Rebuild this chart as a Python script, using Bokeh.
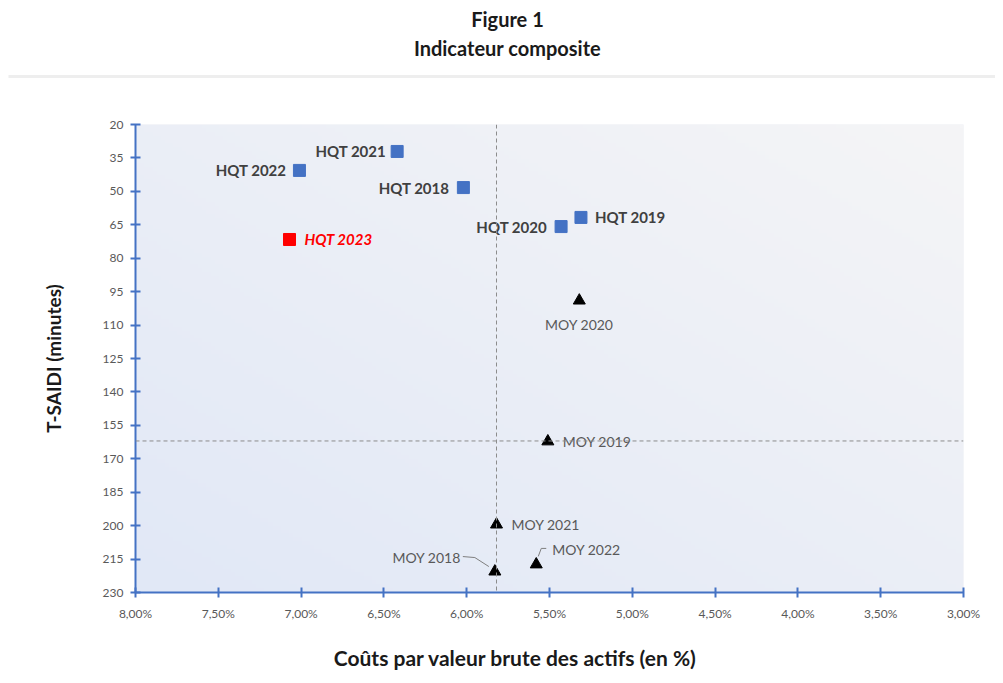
import numpy as np
from bokeh.plotting import figure
from bokeh.models import Range1d, FixedTicker, Span, Label, ColumnDataSource
from bokeh.layouts import column
from bokeh.core.properties import value
from bokeh.embed import file_html
from bokeh.resources import INLINE

# ---------------- data ----------------
hqt_names = ["HQT 2018", "HQT 2019", "HQT 2020", "HQT 2021", "HQT 2022"]
hqt_cost = [6.02, 5.31, 5.43, 6.42, 7.01]
hqt_tsaidi = [48.3, 61.7, 65.8, 32.1, 40.6]

hqt23_names = ["HQT 2023"]
hqt23_cost = [7.07]
hqt23_tsaidi = [71.6]

moy_names = ["MOY 2018", "MOY 2019", "MOY 2020", "MOY 2021", "MOY 2022"]
moy_cost = [5.83, 5.51, 5.32, 5.82, 5.58]
moy_tsaidi = [220.6, 162.2, 99.0, 199.5, 217.4]

ref_cost = 5.82     # vertical dashed reference line
ref_tsaidi = 162.0  # horizontal dashed reference line

x_ticks = [8.0, 7.5, 7.0, 6.5, 6.0, 5.5, 5.0, 4.5, 4.0, 3.5, 3.0]
x_tick_labels = ["8,00%", "7,50%", "7,00%", "6,50%", "6,00%", "5,50%",
                 "5,00%", "4,50%", "4,00%", "3,50%", "3,00%"]
y_ticks = [20, 35, 50, 65, 80, 95, 110, 125, 140, 155, 170, 185, 200, 215, 230]

title_1 = "Figure 1"
title_2 = "Indicateur composite"
x_title = "Coûts par valeur brute des actifs (en %)"
y_title = "T-SAIDI (minutes)"

# ---------------- style ----------------
FONT = "Lato"
W = 995
BLUE = "#4472c4"
TICK_COLOR = "#595959"
DARK = "#1a1a1a"

# label placement (pixels, style only)
hqt_align = ["right", "left", "right", "right", "right"]
hqt_dx = [-14, 14, -14, -11, -13]
moy_align = ["right", "left", "center", "left", "left"]
moy_dx = [-34, 15, 0, 15, 16]
moy_dy = [-14, 0, 24, 0, -15]

# ---------------- title figure ----------------
t = figure(width=W, height=80, x_range=Range1d(0, W), y_range=Range1d(0, 80),
           toolbar_location=None, output_backend="svg", min_border=0,
           x_axis_location=None, y_axis_location=None, frame_align=False)
t.grid.visible = False
t.outline_line_color = None
t.add_layout(Label(x=507, y=62, text=title_1, text_align="center", text_baseline="middle",
                   text_font=FONT, text_font_style="bold", text_font_size="20px",
                   text_color=DARK))
t.add_layout(Label(x=507, y=33, text=title_2, text_align="center", text_baseline="middle",
                   text_font=FONT, text_font_style="bold", text_font_size="20px",
                   text_color=DARK))
t.segment(x0=[8], y0=[4], x1=[W], y1=[4], line_color="#eeeeee", line_width=3)

# ---------------- main figure ----------------
p = figure(width=W, height=552, x_range=Range1d(8, 3), y_range=Range1d(230, 20),
           toolbar_location=None, output_backend="svg", frame_align=False,
           min_border_left=135, min_border_right=32, min_border_top=44, min_border_bottom=40)
p.grid.visible = False
p.outline_line_color = None
p.background_fill_color = "#eef0f6"

# gradient background on its own unit ranges
p.extra_x_ranges = {"bg": Range1d(0, 1)}
p.extra_y_ranges = {"bg": Range1d(0, 1)}
nx, ny = 200, 120
u = np.linspace(0, 1, nx)[None, :]
v = np.linspace(0, 1, ny)[:, None]
tt = (u + v) / 2.0
A = np.array([225, 232, 246])
B = np.array([245, 245, 247])
img = np.empty((ny, nx), dtype=np.uint32)
view = img.view(dtype=np.uint8).reshape((ny, nx, 4))
for k in range(3):
    view[:, :, k] = (A[k] + (B[k] - A[k]) * tt).astype(np.uint8)
view[:, :, 3] = 255
p.image_rgba(image=[img], x=0, y=0, dw=1, dh=1, x_range_name="bg", y_range_name="bg")

# axes
for ax in (p.xaxis[0], p.yaxis[0]):
    ax.axis_line_color = BLUE
    ax.axis_line_width = 2
    ax.major_tick_line_color = BLUE
    ax.major_tick_line_width = 2
    ax.major_tick_in = 5
    ax.major_tick_out = 5
    ax.minor_tick_line_color = None
    ax.major_label_text_color = TICK_COLOR
    ax.major_label_text_font = FONT
    ax.major_label_text_font_size = "12px"

p.xaxis.ticker = FixedTicker(ticks=x_ticks)
p.xaxis.major_label_overrides = dict(zip(x_ticks, x_tick_labels))
p.xaxis.major_label_standoff = 8
p.yaxis.ticker = FixedTicker(ticks=y_ticks)
p.yaxis.major_label_standoff = 7
p.yaxis.axis_label = y_title
p.yaxis.axis_label_text_font = FONT
p.yaxis.axis_label_text_font_style = "bold"
p.yaxis.axis_label_text_font_size = "19px"
p.yaxis.axis_label_text_color = DARK
p.yaxis.axis_label_standoff = 35

# reference lines
p.add_layout(Span(location=ref_cost, dimension="height", line_color="#8c8c8c",
                  line_dash="4 3", line_width=1))
p.add_layout(Span(location=ref_tsaidi, dimension="width", line_color="#8c8c8c",
                  line_dash="4 3", line_width=1))

# leader lines for MOY 2018 and MOY 2022 (pixel offsets converted to data)
px_x = 5.0 / 828.0
px_y = 210.0 / 468.0
lead_px = {0: [(-32, -15), (-20, -14), (-6, -5)],
           4: [(10, -16), (5, -16), (2, -8)]}
xs, ys = [], []
for i, pts in lead_px.items():
    xs.append([moy_cost[i] - dx * px_x for dx, dy in pts])
    ys.append([moy_tsaidi[i] + dy * px_y for dx, dy in pts])
p.multi_line(xs=xs, ys=ys, line_color="#7f7f7f", line_width=1)

# markers
p.scatter(hqt_cost, hqt_tsaidi, marker="square", size=12, color=BLUE)
p.scatter(hqt23_cost, hqt23_tsaidi, marker="square", size=12, color="#ff0000")
p.scatter(moy_cost, moy_tsaidi, marker="triangle", size=12, color="black")

# labels
hsrc = ColumnDataSource(dict(x=hqt_cost, y=hqt_tsaidi, t=hqt_names, a=hqt_align, dx=hqt_dx))
p.text(x="x", y="y", text="t", text_align="a", x_offset="dx", source=hsrc,
       text_baseline="middle", text_font=value(FONT), text_font_style="bold",
       text_font_size="15px", text_color="#404040")
p.text(x=hqt23_cost, y=hqt23_tsaidi, text=hqt23_names, x_offset=15, text_align="left",
       text_baseline="middle", text_font=value(FONT), text_font_style="bold italic",
       text_font_size="15px", text_color="#ff0000")
msrc = ColumnDataSource(dict(x=moy_cost, y=moy_tsaidi, t=moy_names, a=moy_align,
                             dx=moy_dx, dy=moy_dy))
p.text(x="x", y="y", text="t", text_align="a", x_offset="dx", y_offset="dy", source=msrc,
       text_baseline="middle", text_font=value(FONT), text_font_size="14px",
       text_color="#595959")

# ---------------- footer figure (x-axis title) ----------------
f = figure(width=W, height=50, x_range=Range1d(0, W), y_range=Range1d(0, 50),
           toolbar_location=None, output_backend="svg", min_border=0,
           x_axis_location=None, y_axis_location=None, frame_align=False)
f.grid.visible = False
f.outline_line_color = None
f.add_layout(Label(x=515, y=25, text=x_title, text_align="center", text_baseline="middle",
                   text_font=FONT, text_font_style="bold", text_font_size="21px",
                   text_color=DARK))

layout = column(t, p, f)
open("out.html", "w").write(file_html(layout, INLINE))
